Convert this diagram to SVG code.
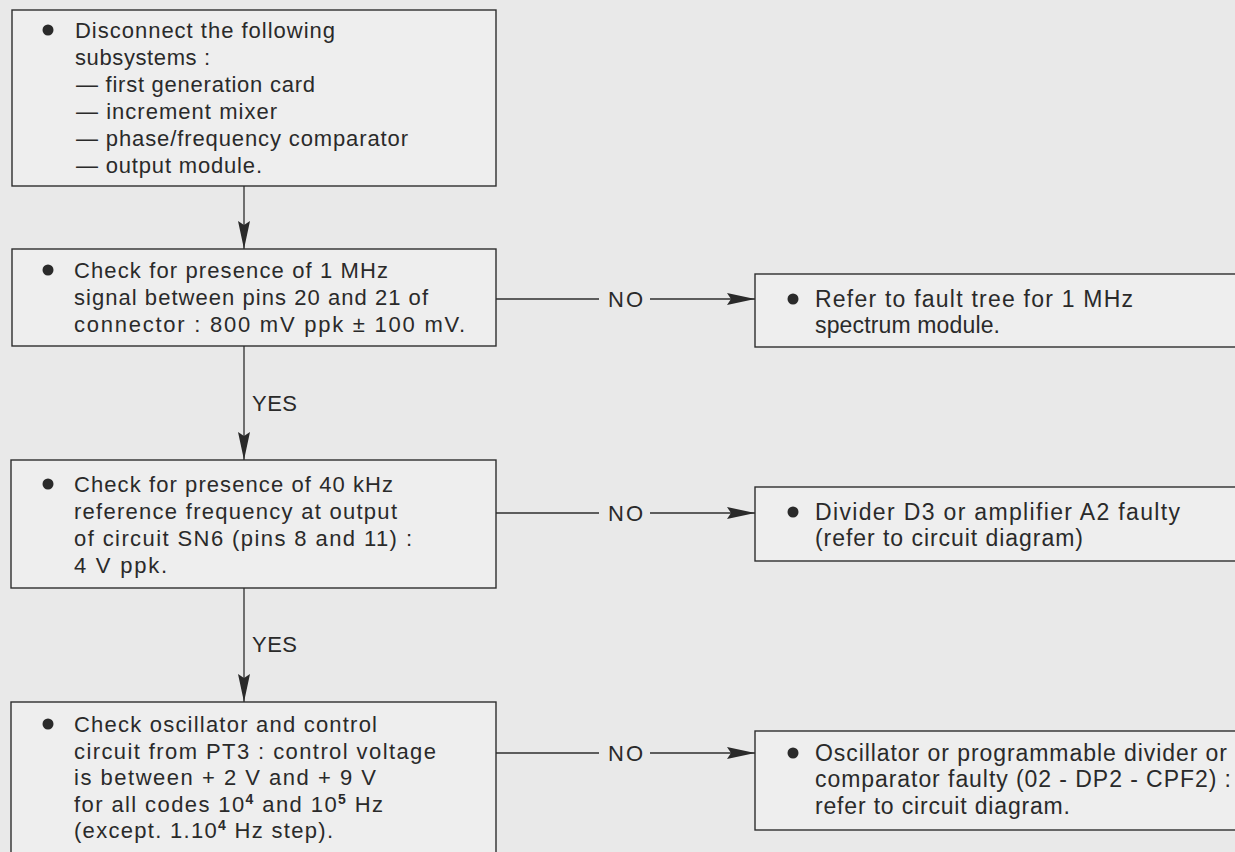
<svg xmlns="http://www.w3.org/2000/svg" width="1235" height="852" viewBox="0 0 1235 852">
<defs>
<style>
.bg{fill:#e9e9e9}
.box{fill:#eeeeee;stroke:#2e2e2e;stroke-width:1.4}
.ln{fill:none;stroke:#2e2e2e;stroke-width:1.3}
.t{font-family:"Liberation Sans",Arial,sans-serif;font-size:22px;fill:#2a2a2a}
.r{font-family:"Liberation Sans",Arial,sans-serif;font-size:23px;fill:#2a2a2a}
.lab{font-family:"Liberation Sans",Arial,sans-serif;font-size:22px;fill:#2a2a2a}
.sup{font-size:14px;font-weight:bold}
.dot{fill:#2a2a2a}
</style>
<marker id="ah" viewBox="0 0 28 12" refX="28" refY="6" markerWidth="28" markerHeight="12" markerUnits="userSpaceOnUse" orient="auto">
<path d="M0,0 L28,6 L0,12 L4,6 Z" fill="#2a2a2a"/>
</marker>
</defs>
<rect class="bg" x="0" y="0" width="1235" height="852"/>

<g id="connectors">
<line class="ln" x1="244" y1="186" x2="244" y2="249" marker-end="url(#ah)"/>
<line class="ln" x1="244" y1="346" x2="244" y2="460" marker-end="url(#ah)"/>
<text class="lab" x="252" y="411" textLength="45">YES</text>
<line class="ln" x1="244" y1="588" x2="244" y2="702" marker-end="url(#ah)"/>
<text class="lab" x="252" y="652" textLength="45">YES</text>
<line class="ln" x1="496" y1="299" x2="599" y2="299"/>
<text class="lab" x="608" y="307" textLength="35">NO</text>
<line class="ln" x1="650" y1="299" x2="755" y2="299" marker-end="url(#ah)"/>
<line class="ln" x1="496" y1="513" x2="599" y2="513"/>
<text class="lab" x="608" y="521" textLength="35">NO</text>
<line class="ln" x1="650" y1="513" x2="755" y2="513" marker-end="url(#ah)"/>
<line class="ln" x1="496" y1="753" x2="599" y2="753"/>
<text class="lab" x="608" y="761" textLength="35">NO</text>
<line class="ln" x1="650" y1="753" x2="755" y2="753" marker-end="url(#ah)"/>
</g>

<g id="n1">
<rect class="box" x="12" y="10" width="484" height="176"/>
<circle class="dot" cx="48" cy="30" r="5.5"/>
<text class="t" x="75" y="38" textLength="260">Disconnect the following</text>
<text class="t" x="75" y="65" textLength="135">subsystems :</text>
<text class="t" x="76" y="92" textLength="239">— first generation card</text>
<text class="t" x="76" y="119" textLength="201">— increment mixer</text>
<text class="t" x="76" y="146" textLength="332">— phase/frequency comparator</text>
<text class="t" x="76" y="173" textLength="186">— output module.</text>
</g>

<g id="n2">
<rect class="box" x="12" y="249" width="484" height="97"/>
<circle class="dot" cx="48" cy="270" r="5.5"/>
<text class="t" x="74" y="278" textLength="314">Check for presence of 1 MHz</text>
<text class="t" x="74" y="305" textLength="354">signal between pins 20 and 21 of</text>
<text class="t" x="74" y="332" textLength="391">connector : 800 mV ppk ± 100 mV.</text>
</g>

<g id="n3">
<rect class="box" x="11" y="460" width="485" height="128"/>
<circle class="dot" cx="48" cy="484" r="5.5"/>
<text class="t" x="74" y="492" textLength="319">Check for presence of 40 kHz</text>
<text class="t" x="74" y="519" textLength="323">reference frequency at output</text>
<text class="t" x="74" y="546" textLength="338">of circuit SN6 (pins 8 and 11) :</text>
<text class="t" x="74" y="573" textLength="93">4 V ppk.</text>
</g>

<g id="n4">
<rect class="box" x="11" y="702" width="485" height="160"/>
<circle class="dot" cx="48" cy="724" r="5.5"/>
<text class="t" x="74" y="732" textLength="303">Check oscillator and control</text>
<text class="t" x="74" y="759" textLength="362">circuit from PT3 : control voltage</text>
<text class="t" x="74" y="785" textLength="302">is between + 2 V and + 9 V</text>
<text class="t" x="74" y="812" textLength="309">for all codes 10<tspan class="sup" dy="-8">4</tspan><tspan dy="8"> and 10</tspan><tspan class="sup" dy="-8">5</tspan><tspan dy="8"> Hz</tspan></text>
<text class="t" x="74" y="838" textLength="259">(except. 1.10<tspan class="sup" dy="-8">4</tspan><tspan dy="8"> Hz step).</tspan></text>
</g>

<g id="r1">
<rect class="box" x="755" y="274" width="490" height="73"/>
<circle class="dot" cx="793" cy="299" r="5.5"/>
<text class="r" x="815" y="307" textLength="318">Refer to fault tree for 1 MHz</text>
<text class="r" x="815" y="333" textLength="185">spectrum module.</text>
</g>

<g id="r2">
<rect class="box" x="755" y="487" width="490" height="74"/>
<circle class="dot" cx="793" cy="512" r="5.5"/>
<text class="r" x="815" y="520" textLength="365">Divider D3 or amplifier A2 faulty</text>
<text class="r" x="815" y="546" textLength="268">(refer to circuit diagram)</text>
</g>

<g id="r3">
<rect class="box" x="755" y="731" width="490" height="99"/>
<circle class="dot" cx="793" cy="753" r="5.5"/>
<text class="r" x="815" y="761" textLength="412">Oscillator or programmable divider or</text>
<text class="r" x="815" y="787" textLength="416">comparator faulty (02 - DP2 - CPF2) :</text>
<text class="r" x="815" y="814" textLength="255">refer to circuit diagram.</text>
</g>
</svg>
